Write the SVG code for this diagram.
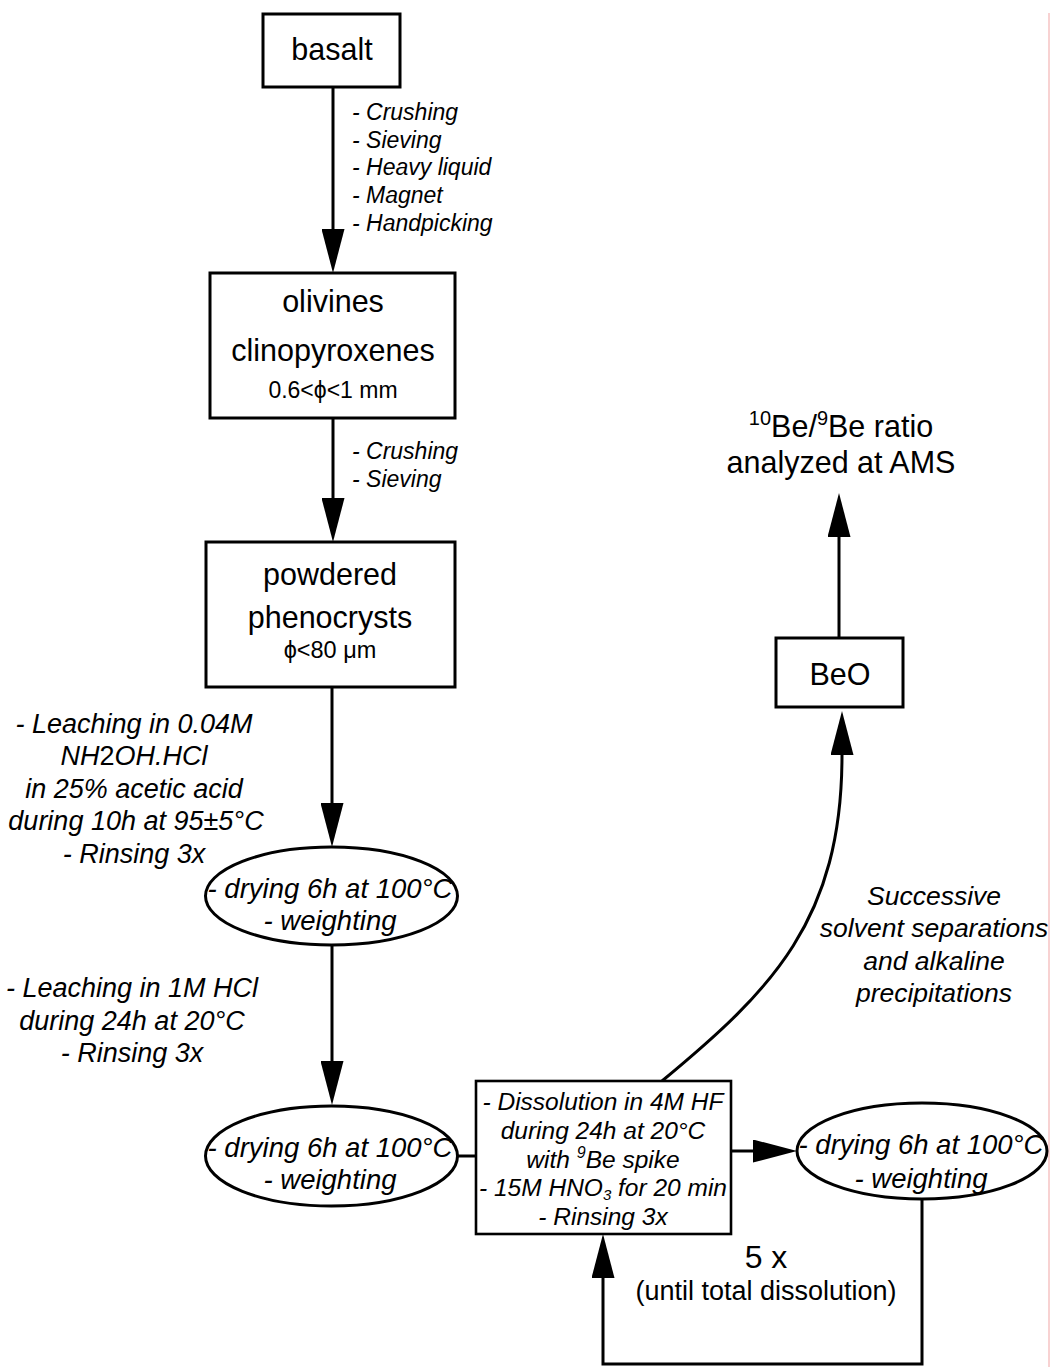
<svg xmlns="http://www.w3.org/2000/svg" width="1052" height="1367" viewBox="0 0 1052 1367">
<style>
text{font-family:"Liberation Sans",Arial,sans-serif;fill:#000}
.big{font-size:30.5px}
.sm{font-size:23px}
.lab{font-size:23px;font-style:italic}
.dis{font-size:24.5px;font-style:italic;text-anchor:middle}
.side{font-size:27px;font-style:italic;text-anchor:middle}
.ell{font-size:27.5px;font-style:italic;text-anchor:middle}
.sep{font-size:26.5px;font-style:italic;text-anchor:middle}
.box{fill:#fff;stroke:#000;stroke-width:3}
.con{fill:none;stroke:#000;stroke-width:3}
.mid{text-anchor:middle}
</style>
<defs>
<marker id="ah" markerUnits="userSpaceOnUse" viewBox="0 0 44 23" markerWidth="44" markerHeight="23" refX="0" refY="11.5" orient="auto">
<path d="M0,0 L44,11.5 L0,23 z" fill="#000"/>
</marker>
</defs>
<line x1="1049" y1="13" x2="1049" y2="1367" stroke="#f4b4b4" stroke-width="1.2"/>
<g id="connectors">
<line class="con" x1="333" y1="87" x2="333" y2="229" marker-end="url(#ah)"/>
<line class="con" x1="333" y1="418" x2="333" y2="498" marker-end="url(#ah)"/>
<line class="con" x1="332" y1="687" x2="332" y2="803" marker-end="url(#ah)"/>
<line class="con" x1="332" y1="946" x2="332" y2="1061" marker-end="url(#ah)"/>
<line class="con" x1="457" y1="1156" x2="476" y2="1156"/>
<line class="con" x1="731" y1="1151" x2="753" y2="1151" marker-end="url(#ah)"/>
<path class="con" d="M922,1200 V1364 H603 V1278" marker-end="url(#ah)"/>
<path class="con" d="M662,1081 C772,990 842,920 842,755" marker-end="url(#ah)"/>
<line class="con" x1="839" y1="638" x2="839" y2="537" marker-end="url(#ah)"/>
</g>
<g id="basalt">
<rect class="box" x="263" y="14" width="137" height="73"/>
<text class="big mid" x="332" y="60">basalt</text>
</g>
<g id="step1-labels">
<text class="lab" x="352" y="120">- Crushing</text>
<text class="lab" x="352" y="148">- Sieving</text>
<text class="lab" x="352" y="175">- Heavy liquid</text>
<text class="lab" x="352" y="203">- Magnet</text>
<text class="lab" x="352" y="231">- Handpicking</text>
</g>
<g id="olivines">
<rect class="box" x="210" y="273" width="245" height="145"/>
<text class="big mid" x="333" y="312">olivines</text>
<text class="big mid" x="333" y="361">clinopyroxenes</text>
<text class="sm mid" x="333" y="398">0.6&lt;ϕ&lt;1 mm</text>
</g>
<g id="step2-labels">
<text class="lab" x="352" y="459">- Crushing</text>
<text class="lab" x="352" y="487">- Sieving</text>
</g>
<g id="powdered">
<rect class="box" x="206" y="542" width="249" height="145"/>
<text class="big mid" x="330" y="585">powdered</text>
<text class="big mid" x="330" y="628">phenocrysts</text>
<text class="mid" x="330" y="658" style="font-size:23.5px">ϕ&lt;80 μm</text>
</g>
<g id="leach1-labels">
<text class="side" x="134" y="733">- Leaching in 0.04M</text>
<text class="side" x="134" y="765">NH<tspan font-style="normal">2</tspan>OH.HCl</text>
<text class="side" x="134" y="798">in 25% acetic acid</text>
<text class="side" x="136" y="830">during 10h at 95±5°C</text>
<text class="side" x="134" y="863">- Rinsing 3x</text>
</g>
<g id="drying1">
<ellipse class="box" cx="331.5" cy="896" rx="126" ry="49"/>
<text class="ell" x="330" y="898">- drying 6h at 100°C</text>
<text class="ell" x="330" y="930">- weighting</text>
</g>
<g id="leach2-labels">
<text class="side" x="132" y="997">- Leaching in 1M HCl</text>
<text class="side" x="132" y="1030">during 24h at 20°C</text>
<text class="side" x="132" y="1062">- Rinsing 3x</text>
</g>
<g id="drying2">
<ellipse class="box" cx="331.5" cy="1156" rx="126" ry="50"/>
<text class="ell" x="330" y="1157">- drying 6h at 100°C</text>
<text class="ell" x="330" y="1189">- weighting</text>
</g>
<g id="dissolution">
<rect class="box" x="476" y="1081" width="255" height="153" style="stroke-width:2.6"/>
<text class="dis" x="603" y="1110">- Dissolution in 4M HF</text>
<text class="dis" x="603" y="1139">during 24h at 20°C</text>
<text class="dis" x="603" y="1168">with <tspan font-size="16" dy="-10">9</tspan><tspan dy="10">Be spike</tspan></text>
<text class="dis" x="603" y="1196">- 15M HNO<tspan font-size="15" dy="4">3</tspan><tspan dy="-4"> for 20 min</tspan></text>
<text class="dis" x="603" y="1225">- Rinsing 3x</text>
</g>
<g id="drying3">
<ellipse class="box" cx="922" cy="1151" rx="125" ry="48"/>
<text class="ell" x="921" y="1154">- drying 6h at 100°C</text>
<text class="ell" x="921" y="1188">- weighting</text>
</g>
<g id="loop-label">
<text class="mid" x="766" y="1268" style="font-size:32px">5 x</text>
<text class="mid" x="766" y="1300" style="font-size:27px">(until total dissolution)</text>
</g>
<g id="separation-label">
<text class="sep" x="934" y="905">Successive</text>
<text class="sep" x="934" y="937">solvent separations</text>
<text class="sep" x="934" y="970">and alkaline</text>
<text class="sep" x="934" y="1002">precipitations</text>
</g>
<g id="beo">
<rect class="box" x="776" y="638" width="127" height="69"/>
<text class="big mid" x="840" y="685">BeO</text>
</g>
<g id="ams">
<text class="big mid" x="841" y="437"><tspan font-size="20" dy="-12">10</tspan><tspan dy="12">Be/</tspan><tspan font-size="20" dy="-12">9</tspan><tspan dy="12">Be ratio</tspan></text>
<text class="big mid" x="841" y="473">analyzed at AMS</text>
</g>
</svg>
